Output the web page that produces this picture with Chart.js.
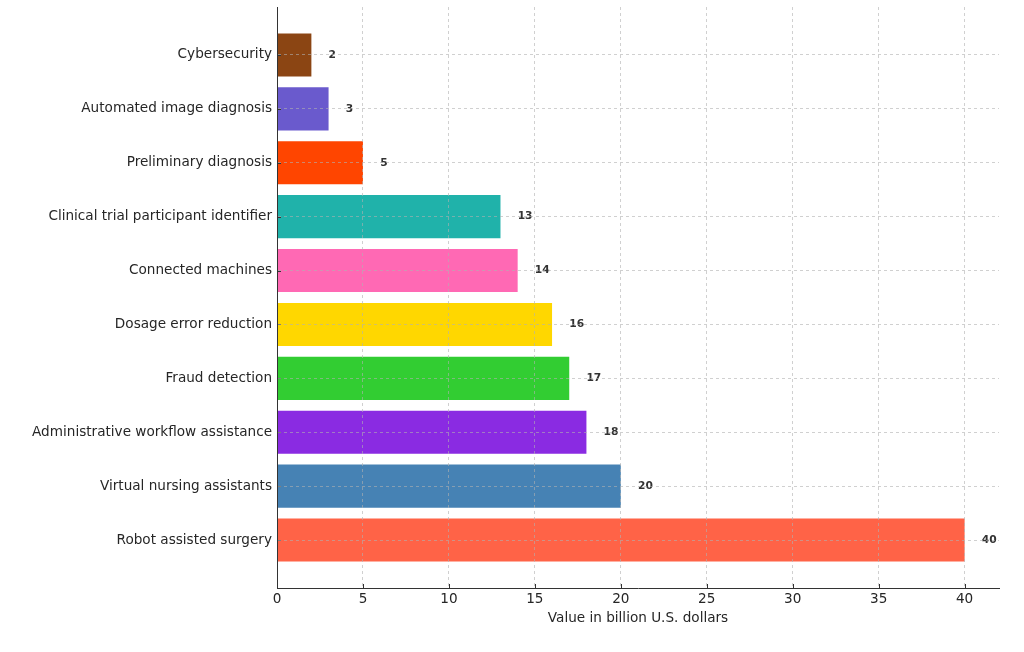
<!DOCTYPE html>
<html>
<head>
<meta charset="utf-8">
<script src="https://cdn.jsdelivr.net/npm/chart.js@4"></script>
<style>
  html, body { margin: 0; padding: 0; background: #fff; }
  #wrap { width: 1024px; height: 652px; }
</style>
</head>
<body>
<div id="wrap"><canvas id="myChart" width="1024" height="652"></canvas></div>
<script>
// data, top to bottom as in the picture
const categories = [
	'Cybersecurity',
	'Automated image diagnosis',
	'Preliminary diagnosis',
	'Clinical trial participant identifier',
	'Connected machines',
	'Dosage error reduction',
	'Fraud detection',
	'Administrative workflow assistance',
	'Virtual nursing assistants',
	'Robot assisted surgery'
];
const values = [2, 3, 5, 13, 14, 16, 17, 18, 20, 40];
const barColors = [
	'#8B4513', '#6A5ACD', '#FF4500', '#20B2AA', '#FF69B4',
	'#FFD700', '#32CD32', '#8A2BE2', '#4682B4', '#FF6347'
];
const xTicks = [0, 5, 10, 15, 20, 25, 30, 35, 40];

const FONT = 'DejaVu Sans';
const TEXT = '#262626';

const points = values.map((v, i) => ({ x: v, y: i }));

// value labels next to each bar + small inward tick marks
const extras = {
	id: 'extras',
	afterDatasetsDraw(chart) {
		const ctx = chart.ctx;
		const xs = chart.scales.x, ys = chart.scales.y;
		ctx.save();
		ctx.font = 'bold 10.7px "' + FONT + '"';
		ctx.fillStyle = '#333';
		ctx.textAlign = 'left';
		ctx.textBaseline = 'middle';
		for (let i = 0; i < values.length; i++) {
			ctx.fillText(String(values[i]), xs.getPixelForValue(values[i] + 1), ys.getPixelForValue(i));
		}
		ctx.strokeStyle = '#333';
		ctx.lineWidth = 1;
		ctx.beginPath();
		for (let i = 0; i < xTicks.length; i++) {
			const px = Math.round(xs.getPixelForValue(xTicks[i])) + 0.5;
			ctx.moveTo(px, xs.top);
			ctx.lineTo(px, xs.top - 4);
		}
		for (let i = 0; i < categories.length; i++) {
			const py = Math.round(ys.getPixelForValue(i)) + 0.5;
			ctx.moveTo(ys.right, py);
			ctx.lineTo(ys.right + 4, py);
		}
		ctx.stroke();
		ctx.restore();
	}
};

const ctx = document.getElementById('myChart');

const myChart = new Chart(ctx, {
	type: 'bar',
	data: {
		datasets: [{
			data: points,
			backgroundColor: barColors,
			borderWidth: 0,
			barPercentage: 0.8,
			categoryPercentage: 1.0
		}]
	},
	options: {
		indexAxis: 'y',
		responsive: false,
		animation: false,
		layout: { padding: { left: 0, right: 25, top: 7, bottom: 0 } },
		scales: {
			x: {
				type: 'linear',
				min: 0,
				max: 42,
				offset: false,
				afterBuildTicks: (scale) => { scale.ticks = xTicks.map(v => ({ value: v })); },
				afterFit: (scale) => { scale.height = 64; scale.paddingLeft = 0; scale.paddingRight = 0; },
				ticks: {
					font: { family: FONT, size: 13.6 },
					color: TEXT,
					padding: 3
				},
				grid: {
					z: 1,
					offset: false,
					color: 'rgba(176,176,176,0.6)',
					drawTicks: false
				},
				border: { display: true, color: '#333', width: 1, dash: [3, 3], z: 2 },
				title: {
					display: true,
					text: 'Value in billion U.S. dollars',
					font: { family: FONT, size: 13.6 },
					color: TEXT,
					padding: { top: 2, bottom: 25 }
				}
			},
			y: {
				type: 'linear',
				reverse: true,
				min: -0.89,
				max: 9.89,
				offset: false,
				afterBuildTicks: (scale) => { scale.ticks = categories.map((c, i) => ({ value: i })); },
				afterFit: (scale) => { scale.width = 277; scale.paddingTop = 0; scale.paddingBottom = 0; },
				ticks: {
					font: { family: FONT, size: 13.6 },
					color: TEXT,
					padding: 5,
					callback: (v) => categories[v]
				},
				grid: {
					z: 1,
					offset: false,
					color: 'rgba(176,176,176,0.6)',
					drawTicks: false
				},
				border: { display: true, color: '#333', width: 1, dash: [3, 3], z: 2 }
			}
		},
		plugins: {
			legend: { display: false },
			tooltip: { enabled: false }
		}
	},
	plugins: [extras]
});
</script>
</body>
</html>
